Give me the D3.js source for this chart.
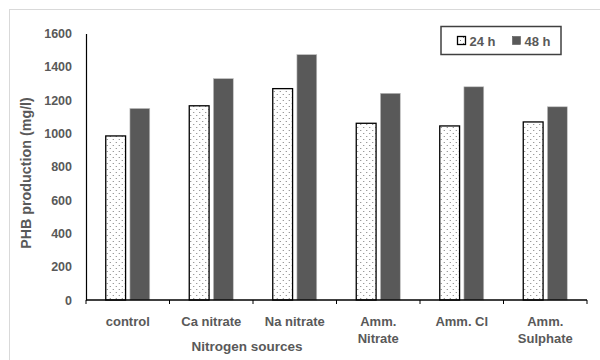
<!DOCTYPE html>
<html>
<head>
<meta charset="utf-8">
<script src="https://cdn.jsdelivr.net/npm/d3@7/dist/d3.min.js"></script>
<style>
  html, body { margin: 0; padding: 0; background: #fff; }
  svg { display: block; }
  text { font-family: "Liberation Sans", Arial, sans-serif; font-weight: bold; fill: #595959; }
</style>
</head>
<body>
<svg id="chart" width="600" height="360"></svg>
<script>
// PHB production by nitrogen source, measured after 24 h and 48 h
const categories = [["control"], ["Ca nitrate"], ["Na nitrate"], ["Amm.", "Nitrate"], ["Amm. Cl"], ["Amm.", "Sulphate"]];
const seriesNames = ["24 h", "48 h"];
const values24h = [985, 1166, 1269, 1061, 1045, 1069];
const values48h = [1150, 1329, 1473, 1241, 1280, 1160];
const yTicks = [0, 200, 400, 600, 800, 1000, 1200, 1400, 1600];

const svg = d3.select("#chart");
const margin = { left: 86, right: 13, top: 33.5, bottom: 60 };
const W = 600, H = 360;
const plotRight = W - margin.right;
const baseY = H - margin.bottom;

// dotted fill for the 24 h bars
const defs = svg.append("defs");
const pat = defs.append("pattern")
  .attr("id", "dots").attr("patternUnits", "userSpaceOnUse")
  .attr("width", 6).attr("height", 6);
pat.append("rect").attr("width", 6).attr("height", 6).attr("fill", "#fff");
pat.append("rect").attr("x", 1).attr("y", 1).attr("width", 1).attr("height", 1).attr("fill", "#7a7a7a");
pat.append("rect").attr("x", 4).attr("y", 4).attr("width", 1).attr("height", 1).attr("fill", "#7a7a7a");

// chart area frame
svg.append("rect")
  .attr("x", 9.5).attr("y", 9.5).attr("width", 600).attr("height", 360)
  .attr("fill", "none").attr("stroke", "#d9d9d9").attr("stroke-width", 1);

const x0 = d3.scaleBand()
  .domain(categories.map((c, i) => i))
  .range([margin.left, plotRight])
  .paddingInner(0).paddingOuter(0);

const groupW = 44;
const x1 = d3.scaleBand()
  .domain(seriesNames)
  .range([0, groupW])
  .paddingInner(0.18);

const y = d3.scaleLinear().domain([0, 1600]).range([baseY, margin.top]);

// y axis
const yAxis = svg.append("g")
  .attr("transform", `translate(${margin.left},0)`)
  .call(d3.axisLeft(y).tickValues(yTicks).tickSize(0).tickPadding(14).tickFormat(d3.format("d")));
yAxis.select(".domain").attr("stroke", "#000").attr("stroke-width", 1.2);
yAxis.selectAll("text").style("font-size", "12.5px").attr("fill", "#595959");

// bars
const rows = categories.map((c, i) => ({ i, v: [values24h[i], values48h[i]] }));
const groups = svg.append("g").selectAll("g")
  .data(rows).join("g")
  .attr("transform", d => `translate(${x0(d.i) + (x0.bandwidth() - groupW) / 2},0)`);

groups.append("rect")
  .attr("x", x1("24 h")).attr("width", x1.bandwidth())
  .attr("y", d => y(d.v[0])).attr("height", d => baseY - y(d.v[0]))
  .attr("fill", "url(#dots)").attr("stroke", "#000").attr("stroke-width", 1.3);

groups.append("rect")
  .attr("x", x1("48 h")).attr("width", x1.bandwidth())
  .attr("y", d => y(d.v[1])).attr("height", d => baseY - y(d.v[1]))
  .attr("fill", "#595959").attr("stroke", "#bfbfbf").attr("stroke-width", 0.6);

// x axis with ticks between categories
const xg = svg.append("g").attr("transform", `translate(0,${baseY})`);
xg.append("line")
  .attr("x1", margin.left).attr("x2", plotRight)
  .attr("y1", 0).attr("y2", 0)
  .attr("stroke", "#000").attr("stroke-width", 1.5);
const boundaries = categories.map((c, i) => x0(i)).concat([plotRight]);
xg.selectAll("line.tick").data(boundaries).join("line")
  .attr("class", "tick")
  .attr("x1", d => d).attr("x2", d => d)
  .attr("y1", 0).attr("y2", 4)
  .attr("stroke", "#000").attr("stroke-width", 1);

const labels = xg.selectAll("text.cat").data(rows).join("text")
  .attr("class", "cat")
  .attr("text-anchor", "middle")
  .attr("x", d => x0(d.i) + x0.bandwidth() / 2)
  .attr("y", 26)
  .style("font-size", "13px");
labels.selectAll("tspan").data(d => categories[d.i].map(t => ({ t, x: x0(d.i) + x0.bandwidth() / 2 })))
  .join("tspan")
  .attr("x", d => d.x)
  .attr("dy", (d, k) => k === 0 ? 0 : 16.5)
  .text(d => d.t);

// axis titles
svg.append("text")
  .attr("x", 247).attr("y", 351)
  .attr("text-anchor", "middle")
  .style("font-size", "13.5px")
  .text("Nitrogen sources");

svg.append("text")
  .attr("transform", "translate(31,173) rotate(-90)")
  .attr("text-anchor", "middle")
  .style("font-size", "14.3px")
  .text("PHB production (mg/l)");

// legend
const lg = svg.append("g");
lg.append("rect")
  .attr("x", 441).attr("y", 26.5).attr("width", 120).attr("height", 28)
  .attr("fill", "#fff").attr("stroke", "#404040").attr("stroke-width", 1.5);
const legendItems = [
  { name: seriesNames[0], x: 457.5, fill: "url(#dots)", stroke: "#000", sw: 1.3 },
  { name: seriesNames[1], x: 512.5, fill: "#595959", stroke: "#595959", sw: 0.6 }
];
const li = lg.selectAll("g").data(legendItems).join("g");
li.append("rect")
  .attr("x", d => d.x).attr("y", 36.5).attr("width", 8).attr("height", 8)
  .attr("fill", d => d.fill).attr("stroke", d => d.stroke).attr("stroke-width", d => d.sw);
li.append("text")
  .attr("x", d => d.x + 12).attr("y", 45.5)
  .style("font-size", "13px")
  .text(d => d.name);
</script>
</body>
</html>
